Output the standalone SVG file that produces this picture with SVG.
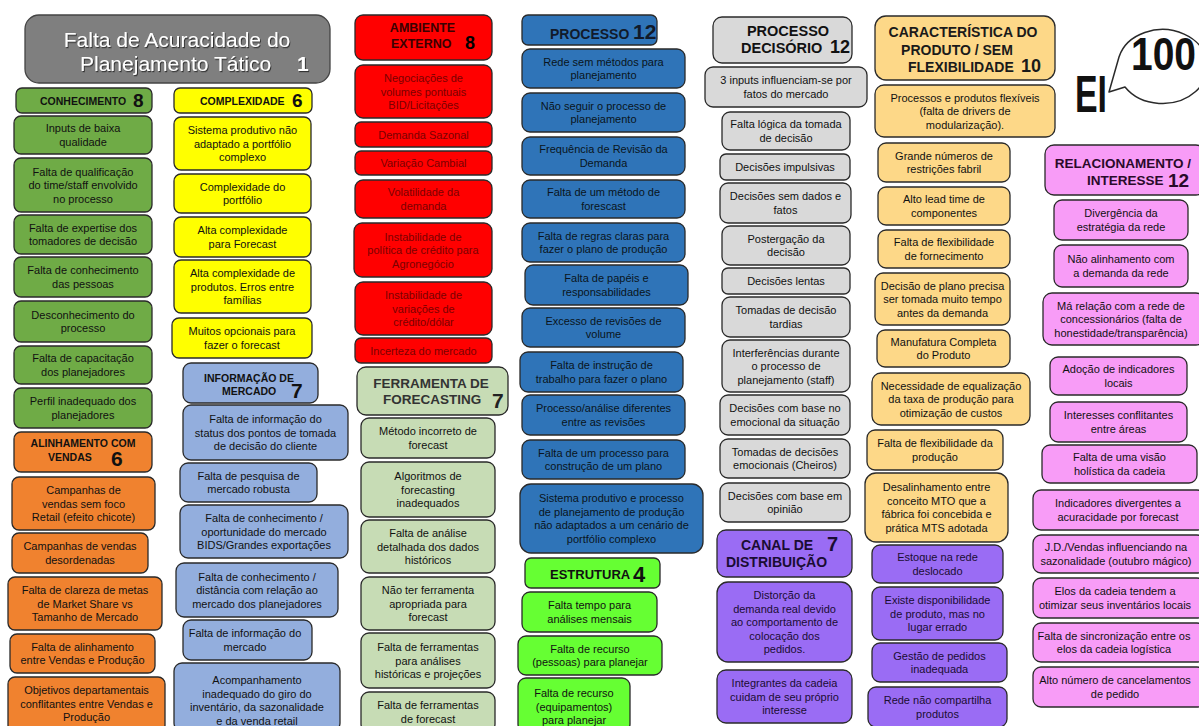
<svg xmlns="http://www.w3.org/2000/svg" width="1199" height="726" viewBox="0 0 1199 726">
<defs>
<filter id="sh" x="-5%" y="-20%" width="110%" height="140%"><feDropShadow dx="1" dy="1.2" stdDeviation="0.6" flood-color="#222" flood-opacity="0.8"/></filter>
</defs>
<style>
text{font-family:"Liberation Sans",Arial,sans-serif}
.n rect{stroke:#2a2a2a;stroke-width:1.3}
.t{font-size:11px;text-anchor:middle;dominant-baseline:central;fill:#111}
.hd{font-weight:bold;font-size:10.5px;fill:#111}
.m{text-anchor:middle}
.gr{fill:#6fab46}.or{fill:#f0822f}.ye{fill:#ffff00}.lb{fill:#93aedd}
.rd{fill:#ff0000}.sg{fill:#c7dcb5}.bl{fill:#2f74b8}.lg{fill:#d9d9d9}
.pu{fill:#9a6cf4}.lo{fill:#fdd888}.pk{fill:#f89cf7}.bg{fill:#66ff33}
.rt{fill:#7a0000}.bt{fill:#0a1420}.pt{fill:#1a0d33}
</style>
<rect width="1199" height="726" fill="#ffffff"/>
<g id="connectors"></g>

<!-- Title -->
<g id="n-title" class="n">
<rect x="25" y="15" width="305" height="68" rx="14" fill="#7f7f7f" style="stroke:#444"/>
<g filter="url(#sh)" fill="#ffffff" font-size="21">
<text x="177" y="47" class="m">Falta de Acuracidade do</text>
<text y="71"><tspan x="80">Planejamento Tático</tspan><tspan x="297" font-weight="bold">1</tspan></text>
</g>
</g>

<!-- Column 1: Conhecimento -->
<g id="n-conhecimento" class="n"><rect class="gr" x="16" y="88" width="136" height="25" rx="6"/><text class="hd" y="105"><tspan x="40">CONHECIMENTO</tspan><tspan x="133" y="107" font-size="19">8</tspan></text></g>
<g id="n-c1" class="n"><rect class="gr" x="14" y="116" width="138" height="38" rx="7"/><text class="t" y="128.25"><tspan x="83">Inputs de baixa</tspan><tspan x="83" dy="13.5">qualidade</tspan></text></g>
<g id="n-c2" class="n"><rect class="gr" x="14" y="158" width="138" height="54" rx="7"/><text class="t" y="171.5"><tspan x="83">Falta de qualificação</tspan><tspan x="83" dy="13.5">do time/staff envolvido</tspan><tspan x="83" dy="13.5">no processo</tspan></text></g>
<g id="n-c3" class="n"><rect class="gr" x="14" y="215" width="138" height="39" rx="7"/><text class="t" y="227.75"><tspan x="83">Falta de expertise dos</tspan><tspan x="83" dy="13.5">tomadores de decisão</tspan></text></g>
<g id="n-c4" class="n"><rect class="gr" x="14" y="257" width="138" height="40" rx="7"/><text class="t" y="270.25"><tspan x="83">Falta de conhecimento</tspan><tspan x="83" dy="13.5">das pessoas</tspan></text></g>
<g id="n-c5" class="n"><rect class="gr" x="14" y="301" width="138" height="41" rx="7"/><text class="t" y="314.75"><tspan x="83">Desconhecimento do</tspan><tspan x="83" dy="13.5">processo</tspan></text></g>
<g id="n-c6" class="n"><rect class="gr" x="14" y="346" width="138" height="38" rx="7"/><text class="t" y="358.25"><tspan x="83">Falta de capacitação</tspan><tspan x="83" dy="13.5">dos planejadores</tspan></text></g>
<g id="n-c7" class="n"><rect class="gr" x="14" y="388" width="138" height="40" rx="7"/><text class="t" y="401.25"><tspan x="83">Perfil inadequado dos</tspan><tspan x="83" dy="13.5">planejadores</tspan></text></g>

<!-- Alinhamento com vendas -->
<g id="n-alinhamento" class="n"><rect class="or" x="14" y="432" width="138" height="40" rx="7"/><text class="hd"><tspan class="m" x="83" y="447">ALINHAMENTO COM</tspan><tspan x="48" y="461">VENDAS</tspan><tspan x="111" y="466" font-size="21">6</tspan></text></g>
<g id="n-a1" class="n"><rect class="or" x="12" y="477" width="143" height="53" rx="7"/><text class="t" y="490"><tspan x="83.5">Campanhas de</tspan><tspan x="83.5" dy="13.5">vendas sem foco</tspan><tspan x="83.5" dy="13.5">Retail (efeito chicote)</tspan></text></g>
<g id="n-a2" class="n"><rect class="or" x="12" y="533" width="136" height="40" rx="7"/><text class="t" y="546.25"><tspan x="80">Campanhas de vendas</tspan><tspan x="80" dy="13.5">desordenadas</tspan></text></g>
<g id="n-a3" class="n"><rect class="or" x="8" y="577" width="154" height="53" rx="7"/><text class="t" y="590"><tspan x="85">Falta de clareza de metas</tspan><tspan x="85" dy="13.5">de Market Share vs</tspan><tspan x="85" dy="13.5">Tamanho de Mercado</tspan></text></g>
<g id="n-a4" class="n"><rect class="or" x="10" y="634" width="145" height="39" rx="7"/><text class="t" y="646.75"><tspan x="82.5">Falta de alinhamento</tspan><tspan x="82.5" dy="13.5">entre Vendas e Produção</tspan></text></g>
<g id="n-a5" class="n"><rect class="or" x="8" y="677" width="157" height="55" rx="7"/><text class="t" y="690"><tspan x="86.5">Objetivos departamentais</tspan><tspan x="86.5" dy="13.5">conflitantes entre Vendas e</tspan><tspan x="86.5" dy="13.5">Produção</tspan></text></g>

<!-- Column 2: Complexidade -->
<g id="n-complexidade" class="n"><rect class="ye" x="174" y="88" width="138" height="25" rx="6"/><text class="hd" y="105"><tspan x="200">COMPLEXIDADE</tspan><tspan x="292" y="107" font-size="19">6</tspan></text></g>
<g id="n-x1" class="n"><rect class="ye" x="174" y="117" width="137" height="53" rx="7"/><text class="t" y="130"><tspan x="242.5">Sistema produtivo não</tspan><tspan x="242.5" dy="13.5">adaptado a portfólio</tspan><tspan x="242.5" dy="13.5">complexo</tspan></text></g>
<g id="n-x2" class="n"><rect class="ye" x="174" y="174" width="137" height="39" rx="7"/><text class="t" y="186.75"><tspan x="242.5">Complexidade do</tspan><tspan x="242.5" dy="13.5">portfólio</tspan></text></g>
<g id="n-x3" class="n"><rect class="ye" x="174" y="217" width="137" height="40" rx="7"/><text class="t" y="230.25"><tspan x="242.5">Alta complexidade</tspan><tspan x="242.5" dy="13.5">para Forecast</tspan></text></g>
<g id="n-x4" class="n"><rect class="ye" x="174" y="260" width="137" height="53" rx="7"/><text class="t" y="273"><tspan x="242.5">Alta complexidade de</tspan><tspan x="242.5" dy="13.5">produtos. Erros entre</tspan><tspan x="242.5" dy="13.5">famílias</tspan></text></g>
<g id="n-x5" class="n"><rect class="ye" x="172" y="318" width="140" height="40" rx="7"/><text class="t" y="331.25"><tspan x="242">Muitos opcionais para</tspan><tspan x="242" dy="13.5">fazer o forecast</tspan></text></g>

<!-- Informação de mercado -->
<g id="n-informacao" class="n"><rect class="lb" x="183" y="363" width="135" height="40" rx="8"/><text class="hd"><tspan class="m" x="249" y="382">INFORMAÇÃO DE</tspan><tspan x="222" y="395">MERCADO</tspan><tspan x="291" y="398" font-size="21">7</tspan></text></g>
<g id="n-i1" class="n"><rect class="lb" x="183" y="405" width="165" height="55" rx="8"/><text class="t" y="419"><tspan x="265.5">Falta de informação do</tspan><tspan x="265.5" dy="13.5">status dos pontos de tomada</tspan><tspan x="265.5" dy="13.5">de decisão do cliente</tspan></text></g>
<g id="n-i2" class="n"><rect class="lb" x="180" y="463" width="137" height="39" rx="8"/><text class="t" y="475.75"><tspan x="248.5">Falta de pesquisa de</tspan><tspan x="248.5" dy="13.5">mercado robusta</tspan></text></g>
<g id="n-i3" class="n"><rect class="lb" x="180" y="505" width="168" height="53" rx="8"/><text class="t" y="518"><tspan x="264">Falta de conhecimento /</tspan><tspan x="264" dy="13.5">oportunidade do mercado</tspan><tspan x="264" dy="13.5">BIDS/Grandes exportações</tspan></text></g>
<g id="n-i4" class="n"><rect class="lb" x="176" y="563" width="162" height="54" rx="8"/><text class="t" y="576.5"><tspan x="257">Falta de conhecimento /</tspan><tspan x="257" dy="13.5">distância com relação ao</tspan><tspan x="257" dy="13.5">mercado dos planejadores</tspan></text></g>
<g id="n-i5" class="n"><rect class="lb" x="183" y="620" width="129" height="40" rx="8"/><text class="t" y="633.25"><tspan x="245">Falta de informação do</tspan><tspan x="245" dy="13.5">mercado</tspan></text></g>
<g id="n-i6" class="n"><rect class="lb" x="174" y="663" width="166" height="68" rx="8"/><text class="t" y="680"><tspan x="257">Acompanhamento</tspan><tspan x="257" dy="13.5">inadequado do giro do</tspan><tspan x="257" dy="13.5">inventário, da sazonalidade</tspan><tspan x="257" dy="13.5">e da venda retail</tspan></text></g>

<!-- Column 3: Ambiente externo -->
<g id="n-ambiente" class="n"><rect class="rd" x="355" y="15" width="137" height="45" rx="8"/><text class="hd" style="font-size:12.5px;fill:#3a0000"><tspan class="m" x="422.5" y="32">AMBIENTE</tspan><tspan x="391" y="48">EXTERNO</tspan><tspan x="465" y="49" style="font-size:18px;fill:#000">8</tspan></text></g>
<g id="n-e1" class="n"><rect class="rd" x="355" y="65" width="137" height="53" rx="8"/><text class="t rt" y="78"><tspan x="423.5">Negociações de</tspan><tspan x="423.5" dy="13.5">volumes pontuais</tspan><tspan x="423.5" dy="13.5">BID/Licitações</tspan></text></g>
<g id="n-e2" class="n"><rect class="rd" x="355" y="122" width="137" height="25" rx="6"/><text class="t rt" x="423.5" y="134.5">Demanda Sazonal</text></g>
<g id="n-e3" class="n"><rect class="rd" x="355" y="151" width="137" height="24" rx="6"/><text class="t rt" x="423.5" y="163">Variação Cambial</text></g>
<g id="n-e4" class="n"><rect class="rd" x="355" y="180" width="137" height="38" rx="8"/><text class="t rt" y="192.25"><tspan x="423.5">Volatilidade da</tspan><tspan x="423.5" dy="13.5">demanda</tspan></text></g>
<g id="n-e5" class="n"><rect class="rd" x="354" y="223" width="138" height="54" rx="8"/><text class="t rt" y="236.5"><tspan x="423">Instabilidade de</tspan><tspan x="423" dy="13.5">política de crédito para</tspan><tspan x="423" dy="13.5">Agronegócio</tspan></text></g>
<g id="n-e6" class="n"><rect class="rd" x="355" y="282" width="137" height="53" rx="8"/><text class="t rt" y="295"><tspan x="423.5">Instabilidade de</tspan><tspan x="423.5" dy="13.5">variações de</tspan><tspan x="423.5" dy="13.5">crédito/dólar</tspan></text></g>
<g id="n-e7" class="n"><rect class="rd" x="355" y="338" width="137" height="25" rx="6"/><text class="t rt" x="423.5" y="350.5">Incerteza do mercado</text></g>

<!-- Ferramenta de forecasting -->
<g id="n-ferramenta" class="n"><rect class="sg" x="357" y="367" width="151" height="48" rx="9"/><text class="hd" style="font-size:13.5px;fill:#333"><tspan class="m" x="431" y="388">FERRAMENTA DE</tspan><tspan x="383" y="404">FORECASTING</tspan><tspan x="492" y="408" style="font-size:21px;fill:#222">7</tspan></text></g>
<g id="n-f1" class="n"><rect class="sg" x="361" y="418" width="134" height="40" rx="8"/><text class="t" y="431.25"><tspan x="428">Método incorreto de</tspan><tspan x="428" dy="13.5">forecast</tspan></text></g>
<g id="n-f2" class="n"><rect class="sg" x="361" y="462" width="134" height="55" rx="8"/><text class="t" y="476"><tspan x="428">Algoritmos de</tspan><tspan x="428" dy="13.5">forecasting</tspan><tspan x="428" dy="13.5">inadequados</tspan></text></g>
<g id="n-f3" class="n"><rect class="sg" x="361" y="520" width="134" height="53" rx="8"/><text class="t" y="533"><tspan x="428">Falta de análise</tspan><tspan x="428" dy="13.5">detalhada dos dados</tspan><tspan x="428" dy="13.5">históricos</tspan></text></g>
<g id="n-f4" class="n"><rect class="sg" x="361" y="577" width="134" height="53" rx="8"/><text class="t" y="590"><tspan x="428">Não ter ferramenta</tspan><tspan x="428" dy="13.5">apropriada para</tspan><tspan x="428" dy="13.5">forecast</tspan></text></g>
<g id="n-f5" class="n"><rect class="sg" x="361" y="633" width="134" height="55" rx="8"/><text class="t" y="647"><tspan x="428">Falta de ferramentas</tspan><tspan x="428" dy="13.5">para análises</tspan><tspan x="428" dy="13.5">históricas e projeções</tspan></text></g>
<g id="n-f6" class="n"><rect class="sg" x="361" y="692" width="134" height="40" rx="8"/><text class="t" y="705"><tspan x="428">Falta de ferramentas</tspan><tspan x="428" dy="13.5">de forecast</tspan></text></g>

<!-- Column 4: Processo -->
<g id="n-processo" class="n"><rect class="bl" x="522" y="15" width="135" height="30" rx="6"/><text class="hd" style="fill:#111a2a"><tspan x="550" y="39" style="font-size:14px">PROCESSO</tspan><tspan x="633" y="39" style="font-size:21px">12</tspan></text></g>
<g id="n-p1" class="n"><rect class="bl" x="522" y="49" width="163" height="39" rx="8"/><text class="t bt" y="61.75"><tspan x="603.5">Rede sem métodos para</tspan><tspan x="603.5" dy="13.5">planejamento</tspan></text></g>
<g id="n-p2" class="n"><rect class="bl" x="522" y="93" width="163" height="39" rx="8"/><text class="t bt" y="105.75"><tspan x="603.5">Não seguir o processo de</tspan><tspan x="603.5" dy="13.5">planejamento</tspan></text></g>
<g id="n-p3" class="n"><rect class="bl" x="522" y="137" width="163" height="38" rx="8"/><text class="t bt" y="149.25"><tspan x="603.5">Frequência de Revisão da</tspan><tspan x="603.5" dy="13.5">Demanda</tspan></text></g>
<g id="n-p4" class="n"><rect class="bl" x="522" y="180" width="163" height="38" rx="8"/><text class="t bt" y="192.25"><tspan x="603.5">Falta de um método de</tspan><tspan x="603.5" dy="13.5">forescast</tspan></text></g>
<g id="n-p5" class="n"><rect class="bl" x="522" y="223" width="163" height="39" rx="8"/><text class="t bt" y="235.75"><tspan x="603.5">Falta de regras claras para</tspan><tspan x="603.5" dy="13.5">fazer o plano de produção</tspan></text></g>
<g id="n-p6" class="n"><rect class="bl" x="525" y="265" width="163" height="40" rx="8"/><text class="t bt" y="278.25"><tspan x="606.5">Falta de papéis e</tspan><tspan x="606.5" dy="13.5">responsabilidades</tspan></text></g>
<g id="n-p7" class="n"><rect class="bl" x="522" y="308" width="163" height="39" rx="8"/><text class="t bt" y="320.75"><tspan x="603.5">Excesso de revisões de</tspan><tspan x="603.5" dy="13.5">volume</tspan></text></g>
<g id="n-p8" class="n"><rect class="bl" x="520" y="352" width="163" height="40" rx="8"/><text class="t bt" y="365.25"><tspan x="601.5">Falta de instrução de</tspan><tspan x="601.5" dy="13.5">trabalho para fazer o plano</tspan></text></g>
<g id="n-p9" class="n"><rect class="bl" x="522" y="395" width="163" height="40" rx="8"/><text class="t bt" y="408.25"><tspan x="603.5">Processo/análise diferentes</tspan><tspan x="603.5" dy="13.5">entre as revisões</tspan></text></g>
<g id="n-p10" class="n"><rect class="bl" x="522" y="440" width="163" height="39" rx="8"/><text class="t bt" y="452.75"><tspan x="603.5">Falta de um processo para</tspan><tspan x="603.5" dy="13.5">construção de um plano</tspan></text></g>
<g id="n-p11" class="n"><rect class="bl" x="520" y="484" width="183" height="69" rx="11"/><text class="t bt" y="498.25"><tspan x="611.5">Sistema produtivo e processo</tspan><tspan x="611.5" dy="13.5">de planejamento de produção</tspan><tspan x="611.5" dy="13.5">não adaptados a um cenário de</tspan><tspan x="611.5" dy="13.5">portfólio complexo</tspan></text></g>

<!-- Estrutura -->
<g id="n-estrutura" class="n"><rect class="bg" x="525" y="558" width="135" height="30" rx="6"/><text class="hd" style="fill:#111"><tspan x="550" y="579" style="font-size:13px">ESTRUTURA</tspan><tspan x="633" y="582" style="font-size:22px">4</tspan></text></g>
<g id="n-s1" class="n"><rect class="bg" x="522" y="592" width="135" height="40" rx="8"/><text class="t" y="605.25"><tspan x="589.5">Falta tempo para</tspan><tspan x="589.5" dy="13.5">análises mensais</tspan></text></g>
<g id="n-s2" class="n"><rect class="bg" x="518" y="636" width="144" height="39" rx="8"/><text class="t" y="648.75"><tspan x="590">Falta de recurso</tspan><tspan x="590" dy="13.5">(pessoas) para planejar</tspan></text></g>
<g id="n-s3" class="n"><rect class="bg" x="518" y="678" width="112" height="54" rx="8"/><text class="t" y="693"><tspan x="574">Falta de recurso</tspan><tspan x="574" dy="13.5">(equipamentos)</tspan><tspan x="574" dy="13.5">para planejar</tspan></text></g>

<!-- Column 5: Processo decisório -->
<g id="n-decisorio" class="n"><rect class="lg" x="713" y="17" width="139" height="46" rx="9"/><text class="hd" style="font-size:14.5px;fill:#111"><tspan class="m" x="788" y="36">PROCESSO</tspan><tspan x="741" y="53">DECISÓRIO</tspan><tspan x="830" y="53" style="font-size:18px">12</tspan></text></g>
<g id="n-d1" class="n"><rect class="lg" x="705" y="67" width="162" height="40" rx="8"/><text class="t" y="80.25"><tspan x="786">3 inputs influenciam-se por</tspan><tspan x="786" dy="13.5">fatos do mercado</tspan></text></g>
<g id="n-d2" class="n"><rect class="lg" x="722" y="112" width="128" height="38" rx="8"/><text class="t" y="124.25"><tspan x="786">Falta lógica da tomada</tspan><tspan x="786" dy="13.5">de decisão</tspan></text></g>
<g id="n-d3" class="n"><rect class="lg" x="720" y="154" width="130" height="26" rx="6"/><text class="t" x="785" y="167">Decisões impulsivas</text></g>
<g id="n-d4" class="n"><rect class="lg" x="720" y="183" width="131" height="40" rx="8"/><text class="t" y="196.25"><tspan x="785.5">Decisões sem dados e</tspan><tspan x="785.5" dy="13.5">fatos</tspan></text></g>
<g id="n-d5" class="n"><rect class="lg" x="722" y="226" width="128" height="39" rx="8"/><text class="t" y="238.75"><tspan x="786">Postergação da</tspan><tspan x="786" dy="13.5">decisão</tspan></text></g>
<g id="n-d6" class="n"><rect class="lg" x="722" y="268" width="128" height="26" rx="6"/><text class="t" x="786" y="281">Decisões lentas</text></g>
<g id="n-d7" class="n"><rect class="lg" x="722" y="297" width="128" height="40" rx="8"/><text class="t" y="310.25"><tspan x="786">Tomadas de decisão</tspan><tspan x="786" dy="13.5">tardias</tspan></text></g>
<g id="n-d8" class="n"><rect class="lg" x="722" y="340" width="128" height="52" rx="8"/><text class="t" y="352.5"><tspan x="786">Interferências durante</tspan><tspan x="786" dy="13.5">o processo de</tspan><tspan x="786" dy="13.5">planejamento (staff)</tspan></text></g>
<g id="n-d9" class="n"><rect class="lg" x="720" y="395" width="130" height="40" rx="8"/><text class="t" y="408.25"><tspan x="785">Decisões com base no</tspan><tspan x="785" dy="13.5">emocional da situação</tspan></text></g>
<g id="n-d10" class="n"><rect class="lg" x="720" y="439" width="130" height="39" rx="8"/><text class="t" y="451.75"><tspan x="785">Tomadas de decisões</tspan><tspan x="785" dy="13.5">emocionais (Cheiros)</tspan></text></g>
<g id="n-d11" class="n"><rect class="lg" x="720" y="483" width="130" height="39" rx="8"/><text class="t" y="495.75"><tspan x="785">Decisões com base em</tspan><tspan x="785" dy="13.5">opinião</tspan></text></g>

<!-- Canal de distribuição -->
<g id="n-canal" class="n"><rect class="pu" x="717" y="530" width="135" height="47" rx="9"/><text class="hd" style="font-size:14px;fill:#1a0d33"><tspan x="741" y="550">CANAL DE</tspan><tspan x="726" y="567">DISTRIBUIÇÃO</tspan><tspan x="827" y="551" style="font-size:20px">7</tspan></text></g>
<g id="n-k1" class="n"><rect class="pu" x="717" y="582" width="135" height="80" rx="11"/><text class="t pt" y="595"><tspan x="784.5">Distorção da</tspan><tspan x="784.5" dy="13.5">demanda real devido</tspan><tspan x="784.5" dy="13.5">ao comportamento de</tspan><tspan x="784.5" dy="13.5">colocação dos</tspan><tspan x="784.5" dy="13.5">pedidos.</tspan></text></g>
<g id="n-k2" class="n"><rect class="pu" x="717" y="670" width="135" height="53" rx="9"/><text class="t pt" y="683"><tspan x="784.5">Integrantes da cadeia</tspan><tspan x="784.5" dy="13.5">cuidam de seu próprio</tspan><tspan x="784.5" dy="13.5">interesse</tspan></text></g>

<!-- Column 6: Característica do produto -->
<g id="n-caracteristica" class="n"><rect class="lo" x="875" y="16" width="180" height="64" rx="11"/><text class="hd" style="font-size:14px;fill:#1a1a1a"><tspan class="m" x="963" y="36.5">CARACTERÍSTICA DO</tspan><tspan class="m" x="957" y="55">PRODUTO / SEM</tspan><tspan x="908" y="72">FLEXIBILIDADE</tspan><tspan x="1021" y="72" style="font-size:18px">10</tspan></text></g>
<g id="n-q1" class="n"><rect class="lo" x="875" y="85" width="180" height="52" rx="9"/><text class="t" y="97.5"><tspan x="965">Processos e produtos flexíveis</tspan><tspan x="965" dy="13.5">(falta de drivers de</tspan><tspan x="965" dy="13.5">modularização).</tspan></text></g>
<g id="n-q2" class="n"><rect class="lo" x="878" y="143" width="132" height="39" rx="8"/><text class="t" y="155.75"><tspan x="944">Grande números de</tspan><tspan x="944" dy="13.5">restrições fabril</tspan></text></g>
<g id="n-q3" class="n"><rect class="lo" x="878" y="187" width="132" height="38" rx="8"/><text class="t" y="199.25"><tspan x="944">Alto lead time de</tspan><tspan x="944" dy="13.5">componentes</tspan></text></g>
<g id="n-q4" class="n"><rect class="lo" x="878" y="230" width="132" height="38" rx="8"/><text class="t" y="242.25"><tspan x="944">Falta de flexibilidade</tspan><tspan x="944" dy="13.5">de fornecimento</tspan></text></g>
<g id="n-q5" class="n"><rect class="lo" x="875" y="273" width="135" height="52" rx="8"/><text class="t" y="285.5"><tspan x="942.5">Decisão de plano precisa</tspan><tspan x="942.5" dy="13.5">ser tomada muito tempo</tspan><tspan x="942.5" dy="13.5">antes da demanda</tspan></text></g>
<g id="n-q6" class="n"><rect class="lo" x="877" y="330" width="133" height="37" rx="8"/><text class="t" y="341.75"><tspan x="943.5">Manufatura Completa</tspan><tspan x="943.5" dy="13.5">do Produto</tspan></text></g>
<g id="n-q7" class="n"><rect class="lo" x="872" y="373" width="158" height="52" rx="9"/><text class="t" y="385.5"><tspan x="951">Necessidade de equalização</tspan><tspan x="951" dy="13.5">da taxa de produção para</tspan><tspan x="951" dy="13.5">otimização de custos</tspan></text></g>
<g id="n-q8" class="n"><rect class="lo" x="867" y="430" width="136" height="40" rx="8"/><text class="t" y="443.25"><tspan x="935">Falta de flexibilidade da</tspan><tspan x="935" dy="13.5">produção</tspan></text></g>
<g id="n-q9" class="n"><rect class="lo" x="865" y="473" width="143" height="69" rx="11"/><text class="t" y="487.25"><tspan x="936.5">Desalinhamento entre</tspan><tspan x="936.5" dy="13.5">conceito MTO que a</tspan><tspan x="936.5" dy="13.5">fábrica foi concebida e</tspan><tspan x="936.5" dy="13.5">prática MTS adotada</tspan></text></g>

<!-- Canal de distribuição (continued, column 6) -->
<g id="n-k3" class="n"><rect class="pu" x="872" y="545" width="131" height="38" rx="8"/><text class="t pt" y="557.25"><tspan x="937.5">Estoque na rede</tspan><tspan x="937.5" dy="13.5">deslocado</tspan></text></g>
<g id="n-k4" class="n"><rect class="pu" x="872" y="587" width="131" height="53" rx="8"/><text class="t pt" y="600"><tspan x="937.5">Existe disponibilidade</tspan><tspan x="937.5" dy="13.5">de produto, mas no</tspan><tspan x="937.5" dy="13.5">lugar errado</tspan></text></g>
<g id="n-k5" class="n"><rect class="pu" x="872" y="643" width="135" height="39" rx="8"/><text class="t pt" y="655.75"><tspan x="939.5">Gestão de pedidos</tspan><tspan x="939.5" dy="13.5">inadequada</tspan></text></g>
<g id="n-k6" class="n"><rect class="pu" x="868" y="687" width="139" height="40" rx="8"/><text class="t pt" y="700.25"><tspan x="937.5">Rede não compartilha</tspan><tspan x="937.5" dy="13.5">produtos</tspan></text></g>

<!-- EI callout -->
<g id="n-ei">
<path d="M1119,57 A45,37 0 1,1 1125,87 L1109,92 Z" fill="#ffffff" stroke="#2a2a2a" stroke-width="1.5" stroke-linejoin="round"/>
<text transform="translate(1131,70) scale(1,1.2)" x="0" y="0" font-weight="bold" font-size="39" fill="#111">100</text>
<text x="1075" y="112" font-weight="bold" font-size="51" textLength="32" lengthAdjust="spacingAndGlyphs" fill="#111">EI</text>
</g>

<!-- Column 7: Relacionamento / interesse -->
<g id="n-relacionamento" class="n"><rect class="pk" x="1045" y="145" width="160" height="50" rx="9"/><text class="hd" style="font-size:13.5px;fill:#2a0a2a"><tspan class="m" x="1123" y="168">RELACIONAMENTO /</tspan><tspan x="1087" y="185">INTERESSE</tspan><tspan x="1168" y="187" style="font-size:19px">12</tspan></text></g>
<g id="n-r1" class="n"><rect class="pk" x="1054" y="200" width="134" height="40" rx="8"/><text class="t" y="213.25"><tspan x="1121">Divergência da</tspan><tspan x="1121" dy="13.5">estratégia da rede</tspan></text></g>
<g id="n-r2" class="n"><rect class="pk" x="1054" y="245" width="134" height="42" rx="8"/><text class="t" y="259.25"><tspan x="1121">Não alinhamento com</tspan><tspan x="1121" dy="13.5">a demanda da rede</tspan></text></g>
<g id="n-r3" class="n"><rect class="pk" x="1043" y="293" width="162" height="52" rx="9"/><text class="t" y="305.5"><tspan x="1121">Má relação com a rede de</tspan><tspan x="1121" dy="13.5">concessionários (falta de</tspan><tspan x="1121" dy="13.5">honestidade/transparência)</tspan></text></g>
<g id="n-r4" class="n"><rect class="pk" x="1050" y="357" width="137" height="38" rx="8"/><text class="t" y="369.25"><tspan x="1118.5">Adoção de indicadores</tspan><tspan x="1118.5" dy="13.5">locais</tspan></text></g>
<g id="n-r5" class="n"><rect class="pk" x="1050" y="402" width="137" height="40" rx="8"/><text class="t" y="415.25"><tspan x="1118.5">Interesses conflitantes</tspan><tspan x="1118.5" dy="13.5">entre áreas</tspan></text></g>
<g id="n-r6" class="n"><rect class="pk" x="1042" y="445" width="155" height="38" rx="8"/><text class="t" y="457.25"><tspan x="1119.5">Falta de uma visão</tspan><tspan x="1119.5" dy="13.5">holística da cadeia</tspan></text></g>
<g id="n-r7" class="n"><rect class="pk" x="1033" y="490" width="172" height="40" rx="8"/><text class="t" y="503.25"><tspan x="1118">Indicadores divergentes a</tspan><tspan x="1118" dy="13.5">acuracidade por forecast</tspan></text></g>
<g id="n-r8" class="n"><rect class="pk" x="1033" y="535" width="172" height="38" rx="8"/><text class="t" y="547.25"><tspan x="1116">J.D./Vendas influenciando na</tspan><tspan x="1116" dy="13.5">sazonalidade (outubro mágico)</tspan></text></g>
<g id="n-r9" class="n"><rect class="pk" x="1033" y="578" width="172" height="40" rx="8"/><text class="t" y="591.25"><tspan x="1115">Elos da cadeia tendem a</tspan><tspan x="1115" dy="13.5">otimizar seus inventários locais</tspan></text></g>
<g id="n-r10" class="n"><rect class="pk" x="1033" y="623" width="172" height="39" rx="8"/><text class="t" y="635.75"><tspan x="1114">Falta de sincronização entre os</tspan><tspan x="1114" dy="13.5">elos da cadeia logística</tspan></text></g>
<g id="n-r11" class="n"><rect class="pk" x="1033" y="667" width="172" height="40" rx="8"/><text class="t" y="680.25"><tspan x="1115">Alto número de cancelamentos</tspan><tspan x="1115" dy="13.5">de pedido</tspan></text></g>
</svg>
